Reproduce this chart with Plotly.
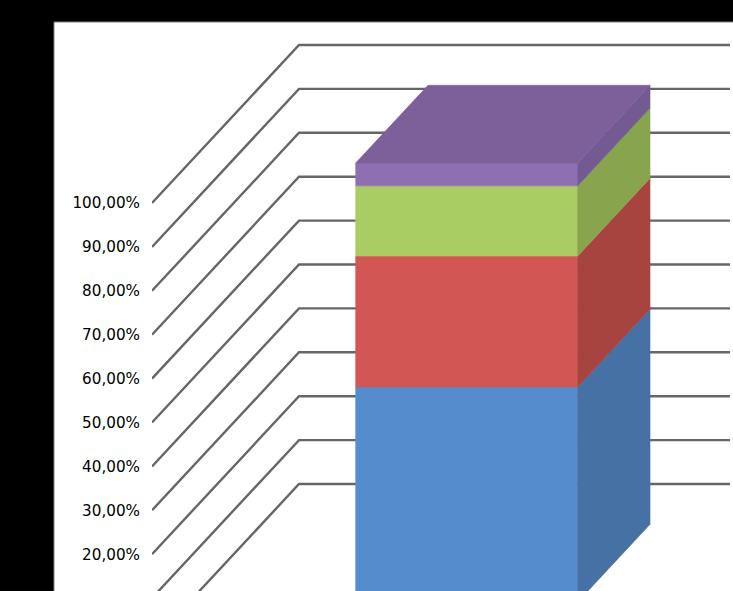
import plotly.graph_objects as go

series_names = ["Série 1", "Série 2", "Série 3", "Série 4"]
series_values = [49.0, 29.8, 16.0, 5.2]
tick_values = [20, 30, 40, 50, 60, 70, 80, 90, 100]
tick_labels = ["20,00%", "30,00%", "40,00%", "50,00%", "60,00%", "70,00%", "80,00%", "90,00%", "100,00%"]
grid_values = [0, 10, 20, 30, 40, 50, 60, 70, 80, 90, 100]
front_colors = ["#558cce", "#d25653", "#a9cd62", "#8e6fb2"]
side_colors = ["#4671a5", "#a8443f", "#88a54d", "#735a93"]
top_color = "#7d5f9a"

# oblique projection: x axis is in pixel-sized units, y axis in percent
W, H = 733, 591
L, T = 152, 22
PX_PER_PCT = 4.39
ZERO_Y = 642
DEPTH_X = 147
DEPTH_Y = 158 / PX_PER_PCT
COL_X0, COL_W = 166.5, 222
T_FRONT, T_BACK = 0.253, 0.745
GRID_END = 578


def proj(x, v, t):
    return x + t * DEPTH_X, v + t * DEPTH_Y


def poly(points, color):
    return go.Scatter(
        x=[p[0] for p in points] + [points[0][0]],
        y=[p[1] for p in points] + [points[0][1]],
        mode="lines", fill="toself", fillcolor=color,
        line=dict(color=color, width=0.6),
        hoverinfo="skip", showlegend=False,
    )


fig = go.Figure()

gx, gy = [], []
for v in grid_values:
    x0, y0 = proj(0, v, 0)
    x1, y1 = proj(0, v, 1)
    gx += [x0, x1, GRID_END, None]
    gy += [y0, y1, y1, None]
fig.add_trace(go.Scatter(x=gx, y=gy, mode="lines",
                         line=dict(color="#666666", width=2.4),
                         hoverinfo="skip", showlegend=False))

xl, xr = COL_X0, COL_X0 + COL_W
base = 0.0
for val, fc, sc in zip(series_values, front_colors, side_colors):
    top = base + val
    fig.add_trace(poly([proj(xl, base, T_FRONT), proj(xr, base, T_FRONT),
                        proj(xr, top, T_FRONT), proj(xl, top, T_FRONT)], fc))
    fig.add_trace(poly([proj(xr, base, T_FRONT), proj(xr, base, T_BACK),
                        proj(xr, top, T_BACK), proj(xr, top, T_FRONT)], sc))
    base = top
fig.add_trace(poly([proj(xl, base, T_FRONT), proj(xr, base, T_FRONT),
                    proj(xr, base, T_BACK), proj(xl, base, T_BACK)], top_color))

fig.update_layout(
    width=W, height=H, autosize=False,
    margin=dict(l=L, r=0, t=T, b=0, pad=0),
    paper_bgcolor="#000000", plot_bgcolor="rgba(0,0,0,0)",
    showlegend=False,
    xaxis=dict(range=[0, W - L], visible=False, fixedrange=True),
    yaxis=dict(
        range=[(ZERO_Y - H) / PX_PER_PCT, (ZERO_Y - T) / PX_PER_PCT],
        tickmode="array", tickvals=tick_values, ticktext=tick_labels,
        showgrid=False, zeroline=False, showline=False, ticks="",
        ticklabelstandoff=11, fixedrange=True,
        tickfont=dict(family="DejaVu Sans", size=15.2, color="#000000"),
    ),
    shapes=[dict(type="rect", xref="paper", yref="paper", layer="below",
                 x0=(54 - L) / (W - L), x1=1.02, y0=-0.02, y1=1,
                 fillcolor="#ffffff", line=dict(color="#808080", width=1))],
)
fig.write_html(
    "out.html",
    config=dict(displayModeBar=False),
    post_script="document.body.style.margin='0';document.documentElement.style.overflow='hidden';document.body.style.overflow='hidden';",
)
